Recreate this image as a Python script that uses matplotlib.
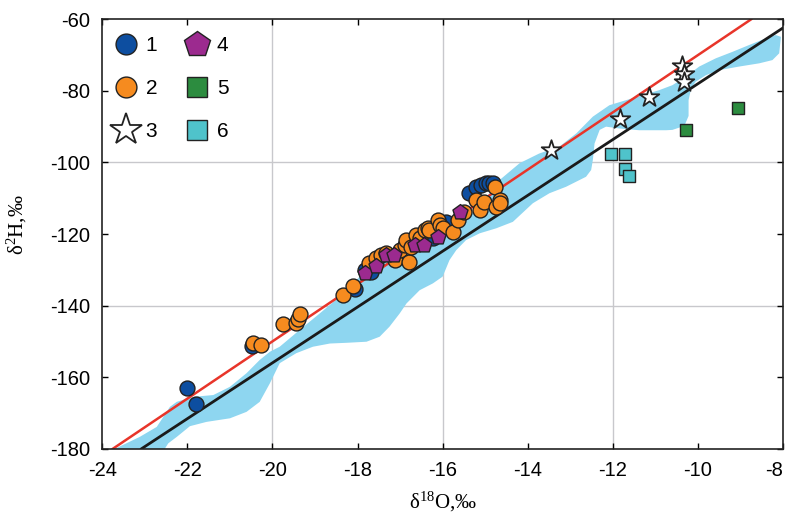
import matplotlib
matplotlib.use("Agg")
import matplotlib.pyplot as plt
from matplotlib.lines import Line2D

plt.rcParams['font.family'] = ['Liberation Sans', 'DejaVu Sans']
plt.rcParams['mathtext.fontset'] = 'custom'
plt.rcParams['mathtext.rm'] = 'Liberation Serif'
plt.rcParams['mathtext.default'] = 'regular'
plt.rcParams['axes.unicode_minus'] = False

# group 1 - blue circles
g1_x = [-22.01, -21.80, -20.49, -18.07, -17.83, -17.68, -17.56, -16.23, -15.92,
        -15.37, -15.21, -15.09, -14.98, -14.90, -14.82]
g1_y = [-163.1, -167.5, -151.2, -135.3, -130.1, -130.5, -127.3, -121.2, -116.6,
        -108.6, -106.8, -106.3, -105.8, -105.7, -105.8]
# group 2 - orange circles
g2_x = [-20.46, -20.26, -19.75, -19.45, -19.40, -19.36, -18.34, -18.11,
        -17.72, -17.56, -17.44, -17.32, -17.13, -17.01, -16.89, -16.85, -16.78,
        -16.74, -16.62, -16.54, -16.42, -16.35, -16.31, -16.11, -16.07, -16.00,
        -15.76, -15.64, -15.49, -15.21, -15.13, -15.02, -14.78, -14.66, -14.74, -14.65]
g2_y = [-150.4, -151.0, -145.2, -145.0, -143.8, -142.4, -137.1, -134.6,
        -128.2, -126.8, -125.9, -125.4, -127.3, -124.5, -123.1, -121.7, -127.7,
        -123.6, -120.3, -121.2, -118.9, -118.4, -118.9, -116.1, -117.5, -118.4,
        -119.4, -116.1, -113.8, -110.5, -113.3, -111.0, -106.8, -110.5, -112.4, -111.4]
# group 3 - stars
g3_x = [-13.45, -11.83, -11.16, -10.38, -10.32, -10.32]
g3_y = [-96.5, -87.9, -81.8, -73.1, -75.3, -77.4]
# group 4 - pentagons
g4_x = [-17.83, -17.56, -17.34, -17.15, -16.66, -16.45, -16.11, -15.60]
g4_y = [-130.8, -129.0, -126.0, -126.0, -123.1, -123.1, -120.9, -113.8]
# group 5 - green squares
g5_x = [-9.05, -10.28]
g5_y = [-84.9, -90.9]
# group 6 - cyan squares
g6_x = [-12.04, -11.71, -11.71, -11.61]
g6_y = [-97.6, -97.7, -101.8, -103.8]

# shaded band outline (upper edge left->right, then lower edge back)
band_x = [-23.70, -23.12, -22.72, -22.41, -22.25, -21.86, -21.39, -21.00, -20.61, -20.30,
          -20.06, -19.83, -19.36, -18.89, -18.42, -17.95, -17.48, -16.70, -16.07, -15.60,
          -15.14, -14.66, -14.19, -13.73, -13.26, -12.86, -12.47, -12.08, -11.69, -11.30,
          -10.91, -10.60, -10.28, -9.97, -9.58, -9.19, -8.80, -8.40, -8.17, -8.05,
          -8.09, -8.25, -8.56, -9.03, -9.50, -9.81, -10.05, -10.16, -10.22, -10.22,
          -10.32, -10.60, -10.75, -11.38, -11.85, -12.16, -12.31, -12.43, -12.47, -12.51,
          -12.63, -13.10, -13.49, -13.88, -14.35, -14.74, -15.13, -15.45, -15.68, -15.84,
          -16.00, -16.23, -16.54, -16.85, -17.01, -17.25, -17.48, -17.79, -18.26, -18.65,
          -19.05, -19.44, -19.83, -20.06, -20.30, -20.61, -21.00, -21.55, -21.94, -22.25,
          -22.45, -22.53, -22.53, -23.70]
band_y = [-180.0, -176.7, -173.9, -168.3, -166.9, -165.5, -165.0, -162.7, -158.9, -155.2,
          -152.9, -151.5, -146.8, -142.2, -137.5, -131.9, -127.3, -122.6, -120.8, -117.0,
          -112.4, -104.9, -100.2, -97.5, -95.6, -91.9, -87.2, -84.0, -82.6, -81.2,
          -79.8, -78.4, -76.0, -73.2, -70.9, -69.1, -67.2, -65.3, -64.4, -64.9,
          -69.5, -71.4, -72.3, -73.2, -74.2, -75.6, -77.4, -79.3, -82.6, -87.0,
          -89.8, -90.9, -91.0, -91.0, -90.5, -90.0, -90.9, -94.7, -99.3, -102.1,
          -104.0, -106.8, -108.6, -111.4, -116.6, -118.4, -119.8, -121.7, -124.5, -127.3,
          -131.9, -133.8, -135.7, -139.4, -142.2, -145.9, -148.7, -150.1, -150.4, -150.6,
          -151.5, -153.3, -156.1, -161.7, -166.9, -169.7, -171.5, -172.5, -173.7, -176.7,
          -178.5, -180.0, -185.0, -185.0]

gmwl_slope, gmwl_icpt = 8.0, 10.0
lmwl_slope, lmwl_icpt = 7.8, 0.0

c_blue = '#0d4ea0'
c_orange = '#f68b1f'
c_purple = '#9c2a8f'
c_green = '#2c8c3f'
c_cyan = '#4fc3cb'
c_band = '#8ed6f0'

fig = plt.figure(figsize=(7.88, 5.15), dpi=100)
ax = fig.add_axes([0.1298, 0.1287, 0.8639, 0.8338])

for gx in [-20, -16, -12]:
    ax.axvline(gx, color='#c8c8cc', lw=1.0, zorder=0.5)
for gy in [-100, -140]:
    ax.axhline(gy, color='#c8c8cc', lw=1.0, zorder=0.5)

ax.fill(band_x, band_y, color=c_band, lw=0, zorder=1)

ax.axline((0, gmwl_icpt), slope=gmwl_slope, color='#e8352a', lw=1.8, zorder=2)
ax.axline((0, lmwl_icpt), slope=lmwl_slope, color='#1a1a1a', lw=2.0, zorder=2)

ek = dict(edgecolor='#222222', linewidths=1.0, zorder=3)
ax.scatter(g1_x, g1_y, s=115, marker='o', facecolor=c_blue, **ek)
ax.scatter(g2_x, g2_y, s=115, marker='o', facecolor=c_orange, **ek)
ax.scatter(g4_x, g4_y, s=130, marker='p', facecolor=c_purple, **ek)
ax.scatter(g3_x, g3_y, s=220, marker='*', facecolor='white', edgecolor='#222222',
           linewidths=1.3, zorder=4)
ax.scatter(g5_x, g5_y, s=75, marker='s', facecolor=c_green, **ek)
ax.scatter(g6_x, g6_y, s=75, marker='s', facecolor=c_cyan, **ek)

ax.set_xlim(-24, -8)
ax.set_ylim(-180, -60)
ax.set_xticks(range(-24, -7, 2))
ax.set_yticks(range(-180, -59, 20))
ax.tick_params(direction='in', top=True, right=True, labelsize=14.5, length=4,
               width=1.0, pad=9)
ax.get_xticklabels()[-1].set_horizontalalignment('right')
for sp in ax.spines.values():
    sp.set_linewidth(1.2)
    sp.set_color('#222222')

ax.set_xlabel('δ$^{18}$O,‰', family='Liberation Serif', fontsize=15)
ax.set_ylabel('δ$^{2}$H,‰', family='Liberation Serif', fontsize=15)
ax.xaxis.set_label_coords(0.5, -0.096)
ax.yaxis.set_label_coords(-0.108, 0.521)

labels = ['1', '2', '3', '4', '5', '6']
handles = [
    Line2D([], [], ls='', marker='o', ms=15, mfc=c_blue, mec='#222222', mew=1.0),
    Line2D([], [], ls='', marker='o', ms=15, mfc=c_orange, mec='#222222', mew=1.0),
    Line2D([], [], ls='', marker='*', ms=24, mfc='white', mec='#222222', mew=1.3),
    Line2D([], [], ls='', marker='p', ms=19, mfc=c_purple, mec='#222222', mew=1.0),
    Line2D([], [], ls='', marker='s', ms=15, mfc=c_green, mec='#222222', mew=1.0),
    Line2D([], [], ls='', marker='s', ms=15, mfc=c_cyan, mec='#222222', mew=1.0),
]
ax.legend(handles, labels, ncol=2, frameon=False, loc='upper left', fontsize=15,
          bbox_to_anchor=(-0.002, 0.985),
          handlelength=1.4, handletextpad=0.25, columnspacing=1.2, labelspacing=1.15,
          borderaxespad=0.1, borderpad=0.4)

fig.savefig('out.png', dpi=100)
